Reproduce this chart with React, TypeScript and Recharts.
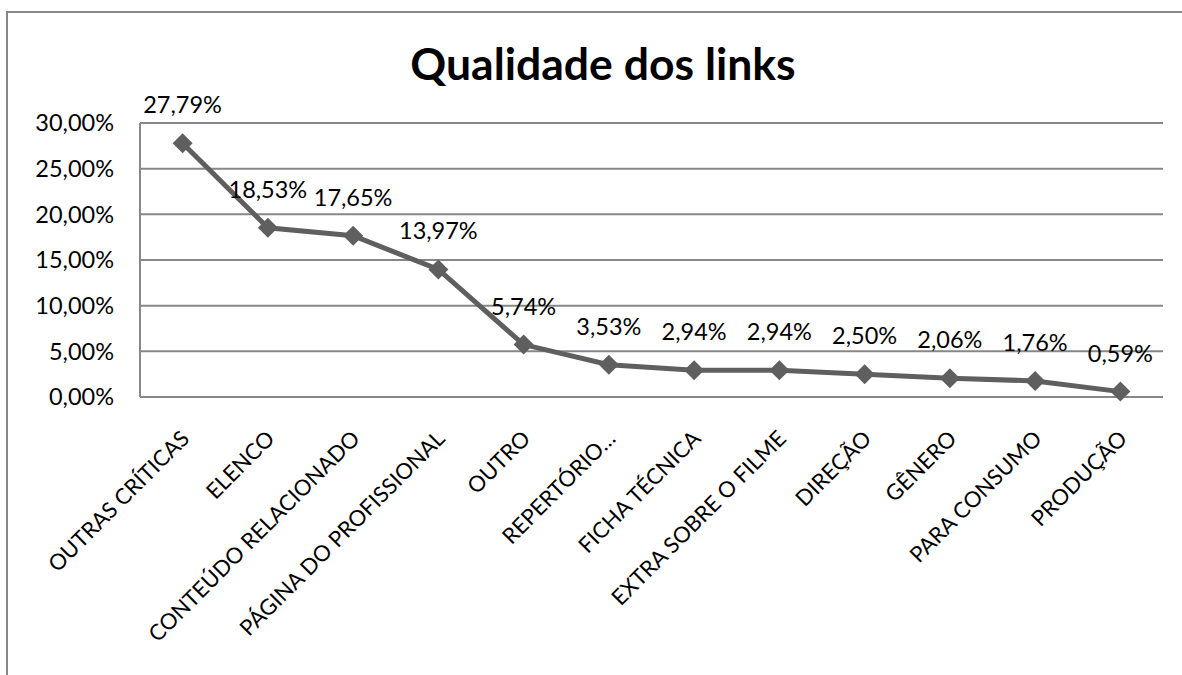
import React from "react";
import { LineChart, Line, XAxis, YAxis, CartesianGrid, LabelList } from "recharts";

const categories = [
  "OUTRAS CRÍTICAS",
  "ELENCO",
  "CONTEÚDO RELACIONADO",
  "PÁGINA DO PROFISSIONAL",
  "OUTRO",
  "REPERTÓRIO…",
  "FICHA TÉCNICA",
  "EXTRA SOBRE O FILME",
  "DIREÇÃO",
  "GÊNERO",
  "PARA CONSUMO",
  "PRODUÇÃO",
];

const shares = [27.79, 18.53, 17.65, 13.97, 5.74, 3.53, 2.94, 2.94, 2.5, 2.06, 1.76, 0.59];

const yTicks = [0, 5, 10, 15, 20, 25, 30];

const data = categories.map((name, i) => ({ name, value: shares[i] }));

const FONT = "Lato, 'Open Sans', sans-serif";
const GRAY = "#878787";
const LINE = "#5f5f5f";

const pct = (v: number) => v.toFixed(2).replace(".", ",") + "%";

const Diamond = (props: any) => {
  const { cx, cy } = props;
  if (cx == null || cy == null) return null;
  const r = 10;
  return (
    <path
      d={`M${cx},${cy - r} L${cx + r},${cy} L${cx},${cy + r} L${cx - r},${cy} Z`}
      fill={LINE}
    />
  );
};

const CategoryTick = (props: any) => {
  const { x, y, payload } = props;
  return (
    <g transform={`translate(${x + 8},${y + 43})`}>
      <text
        textAnchor="end"
        transform="rotate(-45)"
        fontFamily={FONT}
        fontSize={22}
        fill="#000"
      >
        {payload.value}
      </text>
    </g>
  );
};

export default function App() {
  return (
    <div
      style={{
        position: "absolute",
        left: 0,
        top: 0,
        width: 1182,
        height: 675,
        overflow: "hidden",
        background: "#fff",
      }}
    >
      <div style={{ position: "absolute", left: 6, top: 11, width: 1176, height: 2, background: GRAY }} />
      <div style={{ position: "absolute", left: 6, top: 11, width: 2, height: 664, background: GRAY }} />
      <div
        style={{
          position: "absolute",
          left: 0,
          width: 1206,
          top: 38,
          textAlign: "center",
          fontFamily: FONT,
          fontWeight: 700,
          fontSize: 44.5,
          lineHeight: "50px",
          color: "#000",
        }}
      >
        Qualidade dos links
      </div>
      <div style={{ position: "absolute", left: 0, top: 0 }}>
        <LineChart
          width={1182}
          height={675}
          data={data}
          margin={{ top: 123, right: 19, left: 0, bottom: 0 }}
        >
          <CartesianGrid horizontal vertical={false} stroke={GRAY} strokeWidth={2} />
          <XAxis
            dataKey="name"
            interval={0}
            height={278}
            padding={{ left: 42.6, right: 42.6 }}
            tickLine={false}
            tickSize={0}
            tickMargin={0}
            axisLine={{ stroke: GRAY, strokeWidth: 2 }}
            tick={<CategoryTick />}
          />
          <YAxis
            width={140}
            domain={[0, 30]}
            ticks={yTicks}
            interval={0}
            tickLine={false}
            tickSize={0}
            tickMargin={26}
            axisLine={{ stroke: GRAY, strokeWidth: 2 }}
            tickFormatter={pct}
            tick={{ fontFamily: FONT, fontSize: 23.5, fill: "#000" }}
          />
          <Line
            type="linear"
            dataKey="value"
            stroke={LINE}
            strokeWidth={5}
            dot={<Diamond />}
            activeDot={false}
            isAnimationActive={false}
          >
            <LabelList
              dataKey="value"
              position="top"
              offset={30}
              formatter={(v: any) => pct(Number(v))}
              style={{ fontFamily: FONT, fontSize: 23.5, fill: "#000" }}
            />
          </Line>
        </LineChart>
      </div>
    </div>
  );
}
